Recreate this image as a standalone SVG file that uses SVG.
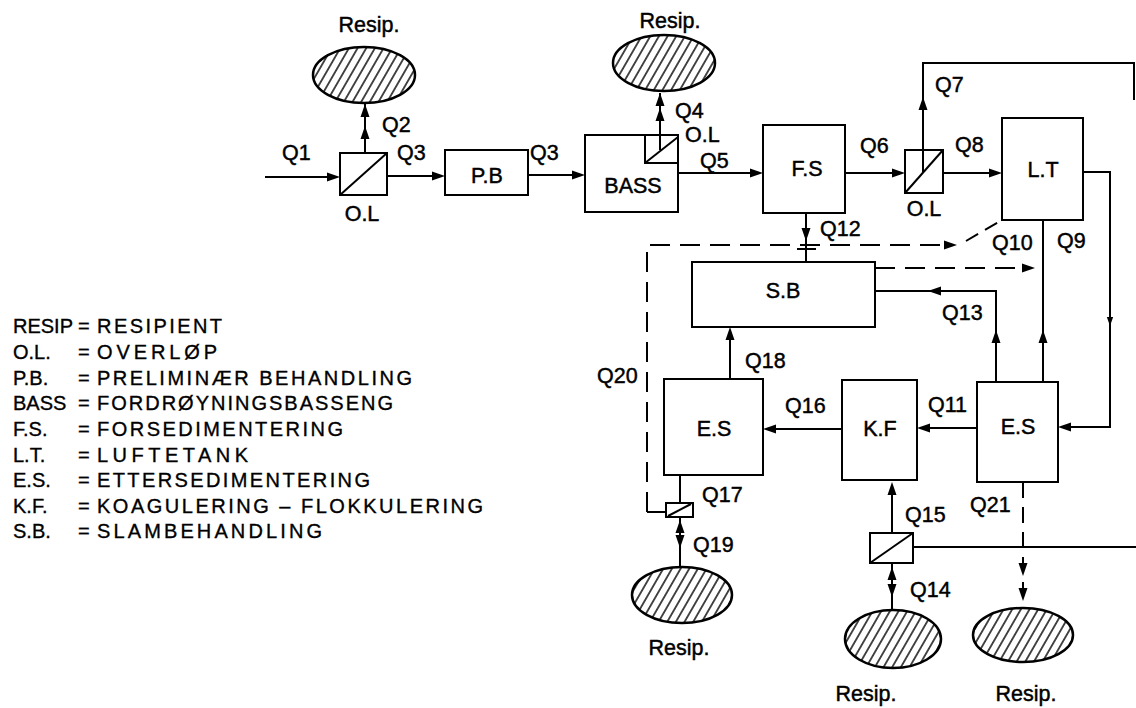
<svg xmlns="http://www.w3.org/2000/svg" width="1136" height="708" viewBox="0 0 1136 708">
<style>
.bx{fill:#fff;stroke:#000;stroke-width:2}
.ln{fill:none;stroke:#000;stroke-width:2}
.ds{fill:none;stroke:#000;stroke-width:2;stroke-dasharray:20 10}
.el{fill:url(#hatch);stroke:#000;stroke-width:2.5}
.t{font-family:"Liberation Sans",Arial,sans-serif;font-size:21.5px;fill:#000;stroke:#000;stroke-width:0.45}
.n{font-family:"Liberation Sans",Arial,sans-serif;font-size:21.5px;fill:#000;stroke:#000;stroke-width:0.45;text-anchor:middle}
.lg{font-family:"Liberation Sans",Arial,sans-serif;font-size:20px;fill:#000;stroke:#000;stroke-width:0.35}
</style>
<defs>
<pattern id="hatch" patternUnits="userSpaceOnUse" width="7.5" height="8" patternTransform="rotate(30)">
<rect width="7.5" height="8" fill="#fff"/>
<line x1="3.75" y1="-2" x2="3.75" y2="10" stroke="#000" stroke-width="1.4"/>
</pattern>
<path id="ah" d="M0,0 L-13,-4.5 L-13,4.5 Z" fill="#000"/>
</defs>
<rect width="1136" height="708" fill="#fff"/>

<g id="connectors">
<line class="ln" x1="265" y1="177" x2="335" y2="177"/>
<use href="#ah" transform="translate(340,177)"/>
<line class="ln" x1="387" y1="176" x2="440" y2="176"/>
<use href="#ah" transform="translate(445,176)"/>
<line class="ln" x1="528" y1="175" x2="580" y2="175"/>
<use href="#ah" transform="translate(585,175)"/>
<line class="ln" x1="678" y1="173" x2="758" y2="173"/>
<use href="#ah" transform="translate(763,173)"/>
<line class="ln" x1="845" y1="173" x2="900" y2="173"/>
<use href="#ah" transform="translate(905,173)"/>
<line class="ln" x1="943" y1="173" x2="997" y2="173"/>
<use href="#ah" transform="translate(1002,173)"/>
<line class="ln" x1="365" y1="174" x2="365" y2="104"/>
<use href="#ah" transform="translate(365,104) rotate(-90)"/>
<use href="#ah" transform="translate(365,126) rotate(-90)"/>
<line class="ln" x1="660" y1="150" x2="660" y2="93"/>
<use href="#ah" transform="translate(660,93) rotate(-90)"/>
<use href="#ah" transform="translate(660,108) rotate(-90)"/>
<path class="ln" d="M923,172 V63 H1134 V100"/>
<use href="#ah" transform="translate(923,97) rotate(-90)"/>
<path class="ln" d="M1083,172 H1110 V427 H1064"/>
<use href="#ah" transform="translate(1058,427) rotate(180)"/>
<use href="#ah" transform="translate(1110,326) rotate(90) scale(0.7)"/>
<line class="ln" x1="1043" y1="220" x2="1043" y2="382"/>
<use href="#ah" transform="translate(1043,330) rotate(-90)"/>
<path class="ln" d="M996,382 V291 H875"/>
<use href="#ah" transform="translate(996,330) rotate(-90)"/>
<use href="#ah" transform="translate(928,291) rotate(180)"/>
<line class="ln" x1="806" y1="213" x2="806" y2="262"/>
<use href="#ah" transform="translate(806,241) rotate(90)"/>
<line class="ln" x1="797" y1="249" x2="816" y2="249"/>
<path class="ln" d="M666,512 H647"/>
<path class="ds" d="M647,512 V245 H945"/>
<use href="#ah" transform="translate(957,245)"/>
<line class="ds" x1="966" y1="241" x2="1002" y2="220" style="stroke-dasharray:14 8"/>
<line class="ds" x1="875" y1="268" x2="1024" y2="268"/>
<use href="#ah" transform="translate(1035,268)"/>
<line class="ln" x1="977" y1="428" x2="922" y2="428"/>
<use href="#ah" transform="translate(917,428) rotate(180)"/>
<line class="ln" x1="842" y1="429" x2="768" y2="429"/>
<use href="#ah" transform="translate(763,429) rotate(180)"/>
<line class="ln" x1="730" y1="379" x2="730" y2="332"/>
<use href="#ah" transform="translate(730,327) rotate(-90)"/>
<line class="ln" x1="680" y1="475" x2="680" y2="503"/>
<line class="ln" x1="680" y1="517" x2="680" y2="567"/>
<use href="#ah" transform="translate(680,520) rotate(-90)"/>
<use href="#ah" transform="translate(680,548) rotate(90)"/>
<line class="ln" x1="892" y1="533" x2="892" y2="485"/>
<use href="#ah" transform="translate(892,482) rotate(-90)"/>
<line class="ln" x1="892" y1="563" x2="892" y2="610"/>
<use href="#ah" transform="translate(892,567) rotate(-90)"/>
<use href="#ah" transform="translate(892,597) rotate(90)"/>
<line class="ln" x1="913" y1="547" x2="1136" y2="547"/>
<line class="ds" x1="1023" y1="482" x2="1023" y2="598" style="stroke-dasharray:16 9"/>
<use href="#ah" transform="translate(1023,576) rotate(90)"/>
<use href="#ah" transform="translate(1023,601) rotate(90)"/>
</g>

<g id="ol1">
<rect class="bx" x="340" y="153" width="47" height="42"/>
<line class="ln" x1="340" y1="195" x2="387" y2="153"/>
<text class="n" x="362" y="221">O.L</text>
</g>
<g id="pb">
<rect class="bx" x="445" y="150" width="83" height="45"/>
<text class="n" x="487" y="183">P.B</text>
</g>
<g id="bass">
<rect class="bx" x="585" y="135" width="93" height="77"/>
<rect class="bx" x="645" y="135" width="33" height="28"/>
<line class="ln" x1="645" y1="163" x2="678" y2="137"/>
<line class="ln" x1="660" y1="150" x2="660" y2="135"/>
<text class="n" x="633" y="193">BASS</text>
</g>
<g id="fs">
<rect class="bx" x="763" y="125" width="82" height="88"/>
<text class="n" x="807" y="176">F.S</text>
</g>
<g id="ol3">
<rect class="bx" x="905" y="150" width="38" height="43"/>
<line class="ln" x1="905" y1="193" x2="943" y2="150"/>
<line class="ln" x1="923" y1="172" x2="923" y2="150"/>
<text class="n" x="924" y="216">O.L</text>
</g>
<g id="lt">
<rect class="bx" x="1002" y="118" width="81" height="102"/>
<text class="n" x="1043" y="177">L.T</text>
</g>
<g id="sb">
<rect class="bx" x="692" y="262" width="183" height="65"/>
<text class="n" x="783" y="298">S.B</text>
</g>
<g id="es2">
<rect class="bx" x="977" y="382" width="81" height="100"/>
<text class="n" x="1018" y="434">E.S</text>
</g>
<g id="kf">
<rect class="bx" x="842" y="380" width="75" height="100"/>
<text class="n" x="880" y="436">K.F</text>
</g>
<g id="es1">
<rect class="bx" x="664" y="379" width="99" height="96"/>
<text class="n" x="714" y="436">E.S</text>
</g>
<g id="valve17">
<rect class="bx" x="666" y="503" width="27" height="14"/>
<line class="ln" x1="668" y1="516" x2="691" y2="504"/>
</g>
<g id="valve15">
<rect class="bx" x="870" y="533" width="43" height="30"/>
<line class="ln" x1="870" y1="563" x2="913" y2="533"/>
</g>

<g id="resip1">
<ellipse class="el" cx="364" cy="75" rx="51" ry="28"/>
<text class="n" x="369" y="32">Resip.</text>
</g>
<g id="resip2">
<ellipse class="el" cx="664" cy="63" rx="51" ry="28"/>
<text class="n" x="670" y="28">Resip.</text>
</g>
<g id="resip3">
<ellipse class="el" cx="682" cy="595" rx="50" ry="28"/>
<text class="n" x="679" y="655">Resip.</text>
</g>
<g id="resip4">
<ellipse class="el" cx="893" cy="639" rx="48" ry="29"/>
<text class="n" x="866" y="701">Resip.</text>
</g>
<g id="resip5">
<ellipse class="el" cx="1023" cy="635" rx="50" ry="27"/>
<text class="n" x="1026" y="701">Resip.</text>
</g>

<g id="labels">
<text class="t" x="282" y="160">Q1</text>
<text class="t" x="382" y="132">Q2</text>
<text class="t" x="397" y="160">Q3</text>
<text class="t" x="530" y="160">Q3</text>
<text class="t" x="675" y="118">Q4</text>
<text class="t" x="685" y="142">O.L</text>
<text class="t" x="700" y="168">Q5</text>
<text class="t" x="860" y="153">Q6</text>
<text class="t" x="935" y="92">Q7</text>
<text class="t" x="955" y="152">Q8</text>
<text class="t" x="1057" y="248">Q9</text>
<text class="t" x="992" y="250">Q10</text>
<text class="t" x="928" y="412">Q11</text>
<text class="t" x="820" y="236">Q12</text>
<text class="t" x="942" y="320">Q13</text>
<text class="t" x="910" y="597">Q14</text>
<text class="t" x="905" y="522">Q15</text>
<text class="t" x="785" y="413">Q16</text>
<text class="t" x="702" y="502">Q17</text>
<text class="t" x="745" y="368">Q18</text>
<text class="t" x="693" y="552">Q19</text>
<text class="t" x="597" y="383">Q20</text>
<text class="t" x="970" y="512">Q21</text>
</g>

<g id="legend">
<text class="lg" x="13" y="333">RESIP</text><text class="lg" x="78" y="333">=</text><text class="lg" x="97" y="333" textLength="125" lengthAdjust="spacing">RESIPIENT</text>
<text class="lg" x="13" y="359">O.L.</text><text class="lg" x="78" y="359">=</text><text class="lg" x="97" y="359" textLength="120" lengthAdjust="spacing">OVERLØP</text>
<text class="lg" x="13" y="385">P.B.</text><text class="lg" x="78" y="385">=</text><text class="lg" x="97" y="385" textLength="315" lengthAdjust="spacing">PRELIMINÆR BEHANDLING</text>
<text class="lg" x="13" y="410">BASS</text><text class="lg" x="78" y="410">=</text><text class="lg" x="97" y="410" textLength="296" lengthAdjust="spacing">FORDRØYNINGSBASSENG</text>
<text class="lg" x="13" y="436">F.S.</text><text class="lg" x="78" y="436">=</text><text class="lg" x="97" y="436" textLength="246" lengthAdjust="spacing">FORSEDIMENTERING</text>
<text class="lg" x="13" y="462">L.T.</text><text class="lg" x="78" y="462">=</text><text class="lg" x="97" y="462" textLength="151" lengthAdjust="spacing">LUFTETANK</text>
<text class="lg" x="13" y="487">E.S.</text><text class="lg" x="78" y="487">=</text><text class="lg" x="97" y="487" textLength="273" lengthAdjust="spacing">ETTERSEDIMENTERING</text>
<text class="lg" x="13" y="513">K.F.</text><text class="lg" x="78" y="513">=</text><text class="lg" x="97" y="513" textLength="386" lengthAdjust="spacing">KOAGULERING – FLOKKULERING</text>
<text class="lg" x="13" y="538">S.B.</text><text class="lg" x="78" y="538">=</text><text class="lg" x="97" y="538" textLength="225" lengthAdjust="spacing">SLAMBEHANDLING</text>
</g>
</svg>
